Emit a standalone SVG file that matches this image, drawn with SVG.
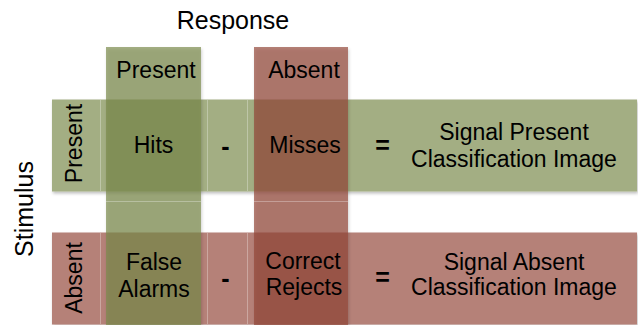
<svg xmlns="http://www.w3.org/2000/svg" width="638" height="325" viewBox="0 0 638 325">
  <defs>
    <filter id="shadow" x="-10%" y="-10%" width="120%" height="130%">
      <feDropShadow dx="1" dy="2" stdDeviation="1.5" flood-color="#000" flood-opacity="0.25"/>
    </filter>
    <style>
      text { font-family: "Liberation Sans", Arial, sans-serif; fill: #000; }
      .hdr { font-size: 25px; }
      .lbl { font-size: 23px; text-anchor: middle; }
      .op { font-size: 25px; font-weight: bold; text-anchor: middle; }
      .row-present { fill: #a3ae83; }
      .row-absent { fill: #b58178; }
      .col-present { fill: #7a894b; fill-opacity: 0.685; }
      .col-absent { fill: #934638; fill-opacity: 0.685; }
      .grid { stroke: #ffffff; stroke-opacity: 0.3; stroke-width: 1; fill: none; }
    </style>
  </defs>

  <!-- axis titles -->
  <text class="hdr" x="233" y="29" text-anchor="middle">Response</text>
  <text class="hdr" transform="translate(33,209) rotate(-90)" text-anchor="middle">Stimulus</text>

  <!-- stimulus rows -->
  <g id="row-present">
    <rect class="row-present" x="52" y="99.5" width="585" height="92" filter="url(#shadow)"/>
  </g>
  <g id="row-absent">
    <rect class="row-absent" x="52" y="232.5" width="585" height="92" filter="url(#shadow)"/>
  </g>

  <!-- faint cell borders inside the rows -->
  <g id="row-grid" class="grid">
    <line x1="100.5" y1="100" x2="100.5" y2="191"/>
    <line x1="207.5" y1="100" x2="207.5" y2="191"/>
    <line x1="247.5" y1="100" x2="247.5" y2="191"/>
    <line x1="100.5" y1="233" x2="100.5" y2="324"/>
    <line x1="207.5" y1="233" x2="207.5" y2="324"/>
    <line x1="247.5" y1="233" x2="247.5" y2="324"/>
  </g>

  <!-- response columns, translucent over the rows -->
  <g id="col-present">
    <rect class="col-present" x="106" y="47" width="95" height="280" filter="url(#shadow)"/>
    <text class="lbl" x="156" y="78">Present</text>
  </g>
  <g id="col-absent">
    <rect class="col-absent" x="254" y="47" width="94" height="280" filter="url(#shadow)"/>
    <text class="lbl" x="304" y="78">Absent</text>
  </g>

  <!-- faint cell borders inside the columns -->
  <g id="col-grid" class="grid">
    <line x1="106" y1="201.5" x2="201" y2="201.5"/>
    <line x1="254" y1="201.5" x2="348" y2="201.5"/>
  </g>

  <!-- row labels -->
  <text class="lbl" transform="translate(81.5,143.5) rotate(-90)">Present</text>
  <text class="lbl" transform="translate(81.5,278) rotate(-90)">Absent</text>

  <!-- signal present row cells -->
  <g id="cell-hits">
    <text class="lbl" x="153.5" y="153">Hits</text>
  </g>
  <g id="op-minus-1">
    <text class="op" x="225.5" y="155">-</text>
  </g>
  <g id="cell-misses">
    <text class="lbl" x="305" y="153">Misses</text>
  </g>
  <g id="op-equals-1">
    <text class="op" x="382.5" y="154">=</text>
  </g>
  <g id="result-present">
    <text class="lbl" x="514" y="139.5">Signal Present</text>
    <text class="lbl" x="514" y="166.5">Classification Image</text>
  </g>

  <!-- signal absent row cells -->
  <g id="cell-false-alarms">
    <text class="lbl" x="154" y="270">False</text>
    <text class="lbl" x="154" y="296.5">Alarms</text>
  </g>
  <g id="op-minus-2">
    <text class="op" x="225.5" y="287">-</text>
  </g>
  <g id="cell-correct-rejects">
    <text class="lbl" x="303" y="268.5">Correct</text>
    <text class="lbl" x="304" y="294.5">Rejects</text>
  </g>
  <g id="op-equals-2">
    <text class="op" x="382.5" y="286">=</text>
  </g>
  <g id="result-absent">
    <text class="lbl" x="514" y="270">Signal Absent</text>
    <text class="lbl" x="514" y="295">Classification Image</text>
  </g>
</svg>
